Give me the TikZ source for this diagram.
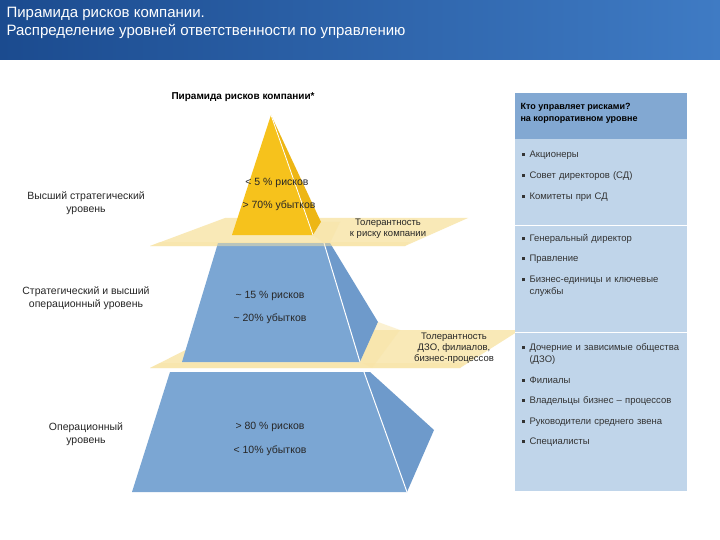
\documentclass[tikz,border=0pt]{standalone}
\usepackage{fontspec}
\setmainfont{Liberation Sans}
\begin{document}
\begin{tikzpicture}[x=1pt,y=-1pt,
  lbl/.style={font=\fontsize{10.5}{12.5}\selectfont,align=center,text=black!85},
  pt/.style={font=\fontsize{9.5}{11.5}\selectfont,anchor=west,text=black!80,align=left,text width=170pt},
  ]
\definecolor{pyr}{HTML}{7BA6D3}
\definecolor{pyrside}{HTML}{6E9ACB}
\definecolor{gold}{HTML}{F6C21C}
\definecolor{goldside}{HTML}{EDB614}
\definecolor{plane}{HTML}{F8E4A6}
\definecolor{panel}{HTML}{C0D5EA}
\definecolor{panelhd}{HTML}{82A8D2}
\definecolor{barl}{HTML}{1B4B8F}
\definecolor{barr}{HTML}{3F7BC4}
\useasboundingbox (0,0) rectangle (720,540);
\fill[white] (0,0) rectangle (720,540);
\shade[left color=barl,right color=barr] (0,0) rectangle (720,60);
\node[anchor=north west,text=white,align=left,font=\fontsize{15}{18}\selectfont] (title) at (3,4) {Пирамида рисков компании.\\Распределение уровней ответственности по управлению};
% planes
\fill[plane,opacity=0.8] (150,246) -- (225,218) -- (468,218) -- (405,246) -- cycle;
\fill[plane,opacity=0.8] (150,368) -- (225,330) -- (520,330) -- (460,368) -- cycle;
% bottom tier
\fill[pyr] (170,372) -- (364,372) -- (407,492) -- (132,492) -- cycle;
\fill[pyrside] (364,372) -- (370,372) -- (434,430) -- (407,492) -- cycle;
\draw[white,line width=1pt] (364,372) -- (407,492);
% middle tier
\fill[pyr] (218,243) -- (324,243) -- (360,362) -- (182,362) -- cycle;
\fill[pyrside] (324,243) -- (330,243) -- (378,322) -- (360,362) -- cycle;
\draw[white,line width=1pt] (324,243) -- (360,362);
% top
\fill[gold] (271,115) -- (313,235) -- (232,235) -- cycle;
\fill[goldside] (271,115) -- (321,222) -- (313,235) -- cycle;
\draw[white,line width=0.8pt] (271,115) -- (313,235);
% thin plane strips in front
\fill[plane,opacity=0.5] (150,246) -- (160,242) -- (410,242) -- (405,246) -- cycle;
\fill[plane,opacity=0.5] (313,235) -- (321,222) -- (340,222) -- (330,243) -- (324,243) -- cycle;
\fill[plane,opacity=0.5] (150,368) -- (160,363) -- (465,363) -- (460,368) -- cycle;
\fill[plane,opacity=0.5] (360,362) -- (378,322) -- (400,330) -- (372,368) -- cycle;
% labels
\node[font=\bfseries\fontsize{10}{12}\selectfont,anchor=west] (ptitle) at (168,97) {Пирамида рисков компании*};
\node[lbl] (t1) at (277,183) {< 5 \% рисков};
\node[lbl] (t2) at (279,206) {> 70\% убытков};
\node[lbl] (m1) at (270,296) {\textasciitilde{} 15 \% рисков};
\node[lbl] (m2) at (270,319) {\textasciitilde{} 20\% убытков};
\node[lbl] (b1) at (270,427) {> 80 \% рисков};
\node[lbl] (b2) at (270,451) {< 10\% убытков};
\node[lbl,font=\fontsize{9.5}{11}\selectfont] (tol1) at (388,229) {Толерантность\\к риску компании};
\node[lbl,font=\fontsize{9.5}{11}\selectfont] (tol2) at (454,348) {Толерантность\\ДЗО, филиалов,\\бизнес-процессов};
\node[lbl,font=\fontsize{10.5}{13}\selectfont] (l1) at (86,203) {Высший стратегический\\уровень};
\node[lbl,font=\fontsize{10.5}{13}\selectfont] (l2) at (86,298) {Стратегический и высший\\операционный уровень};
\node[lbl,font=\fontsize{10.5}{13}\selectfont] (l3) at (86,434) {Операционный\\уровень};
% panel
\fill[panel] (515,93) rectangle (687,491);
\fill[panelhd] (515,93) rectangle (687,139);
\draw[white,line width=1pt] (515,226) -- (687,226) (515,332) -- (687,332);
\node[anchor=north west,font=\bfseries\fontsize{9}{11.5}\selectfont,align=left] (ph) at (517,100) {Кто управляет рисками?\\на корпоративном уровне};
\newcommand{\bul}{\rule[0.25ex]{3pt}{3pt}\hspace{5pt}}
\node[pt] (a1) at (518,155) {\bul Акционеры};
\node[pt] (a2) at (518,176) {\bul Совет директоров (СД)};
\node[pt] (a3) at (518,197) {\bul Комитеты при СД};
\node[pt] (b1p) at (518,239) {\bul Генеральный директор};
\node[pt] (b2p) at (518,259) {\bul Правление};
\node[pt] (b3p) at (518,286) {\bul Бизнес-единицы и ключевые\\\hspace{8pt}службы};
\node[pt] (c1) at (518,354) {\bul Дочерние и зависимые общества\\\hspace{8pt}(ДЗО)};
\node[pt] (c2) at (518,380) {\bul Филиалы};
\node[pt] (c3) at (518,401) {\bul Владельцы бизнес – процессов};
\node[pt] (c4) at (518,422) {\bul Руководители среднего звена};
\node[pt] (c5) at (518,442) {\bul Специалисты};
\end{tikzpicture}
\end{document}
